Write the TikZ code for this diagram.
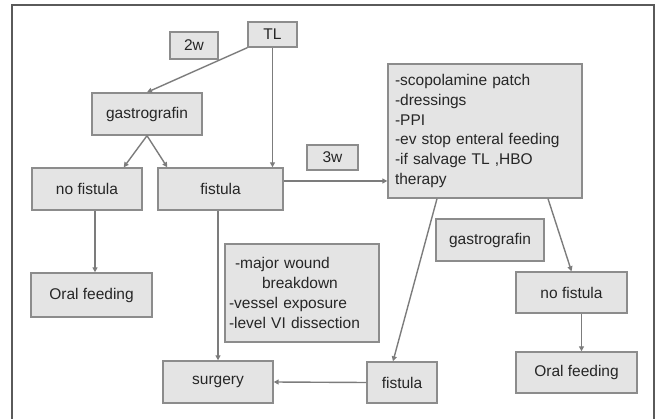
\documentclass[tikz,border=0pt]{standalone}
\usepackage{fontspec}
\setmainfont{Liberation Sans}
\usepackage{tikz}
\usetikzlibrary{arrows.meta}
\definecolor{boxfill}{HTML}{E4E4E4}
\definecolor{boxline}{HTML}{8C8C8C}
\definecolor{linkline}{HTML}{7C7C7C}
\definecolor{frameline}{HTML}{5A5A5A}
\newcommand{\boxtext}{\fontsize{15.5}{19.8}\selectfont}
\tikzset{
	stepbox/.style={draw=boxline, fill=boxfill, line width=1.4pt, inner sep=2pt, font=\boxtext, text=black!85},
	link/.style={draw=linkline, line width=1.4pt, -{Triangle[length=5pt,width=5pt]}},
}

\begin{document}
\begin{tikzpicture}[x=1pt, y=-1pt]
	\useasboundingbox (0,0) rectangle (660,419);
	\draw[frameline, line width=1.4pt] (12,430) |- (654,5) -- (654,430);
	\node[stepbox, minimum width=49pt, minimum height=25pt] (TL) at (272.5,34.5) {TL};
	\node[stepbox, minimum width=48pt, minimum height=27pt] (W2) at (194,45.5) {2w};
	\node[stepbox, minimum width=110pt, minimum height=42pt] (GastroL) at (147,114) {gastrografin};
	\node[stepbox, minimum width=110pt, minimum height=42pt] (NoFistL) at (87,189) {no fistula};
	\node[stepbox, minimum width=125pt, minimum height=42pt] (Fist) at (220.5,189) {fistula};
	\node[stepbox, minimum width=51pt, minimum height=25pt] (W3) at (332.5,157.5) {3w};
	\node[stepbox, minimum height=134pt, text width=180pt, inner xsep=7pt, align=left] (Care) at (485,131)
		{-scopolamine patch\\-dressings\\-PPI\\-ev stop enteral feeding\\-if salvage TL ,HBO\\therapy};
	\node[stepbox, minimum width=121pt, minimum height=44pt] (OralL) at (91.5,295) {Oral feeding};
	\node[stepbox, minimum height=98pt, text width=146pt, inner xsep=4pt, align=left] (Major) at (302,293)
		{\hspace*{6pt}-major wound\\\hspace*{33pt}breakdown\\-vessel exposure\\-level VI dissection};
	\node[stepbox, minimum width=110pt, minimum height=42pt] (Surgery) at (218,382) {surgery};
	\node[stepbox, minimum width=108pt, minimum height=42pt] (GastroR) at (490,240) {gastrografin};
	\node[stepbox, minimum width=111pt, minimum height=41pt] (NoFistR) at (571.5,292.5) {no fistula};
	\node[stepbox, minimum width=121pt, minimum height=41pt] (OralR) at (576.5,372.5) {Oral feeding};
	\node[stepbox, minimum width=70pt, minimum height=41pt] (FistR) at (402,382.5) {fistula};
	\draw[link] (TL.south west) -- (GastroL.north);
	\draw[link] (TL.south) -- (TL.south |- Fist.north);
	\draw[link] (GastroL.south) -- ([xshift=-19pt]NoFistL.north east);
	\draw[link] (GastroL.south) -- ([xshift=10pt]Fist.north west);
	\draw[link] ([yshift=8pt]Fist.east) -- ([yshift=8pt]Fist.east -| Care.west);
	\draw[link] ([xshift=8pt]NoFistL.south) -- ([xshift=8pt]NoFistL.south |- OralL.north);
	\draw[link] (Surgery.north |- Fist.south) -- (Surgery.north);
	\draw[link] ([xshift=-48pt]Care.south) -- ([xshift=-9pt]FistR.north);
	\draw[link] ([xshift=63pt]Care.south) -- (NoFistR.north);
	\draw[link] ([xshift=10pt]NoFistR.south) -- ([xshift=10pt]NoFistR.south |- OralR.north);
	\draw[link] (FistR.west) -- (Surgery.east);
	%\draw [red] (current bounding box.south west) rectangle (current bounding box.north east);
\end{tikzpicture}
\end{document}
